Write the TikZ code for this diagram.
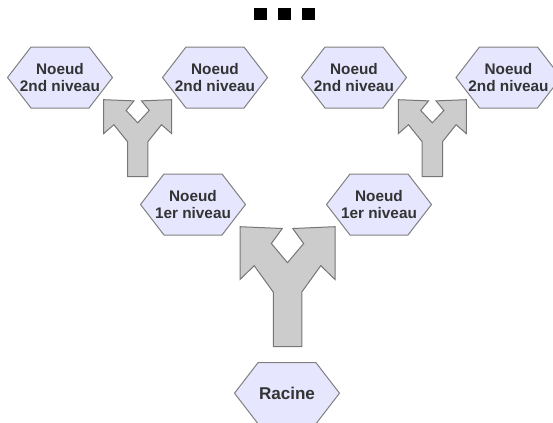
\documentclass[tikz,border=0pt]{standalone}
\usepackage{fontspec}
\setmainfont{Liberation Sans}
\usetikzlibrary{backgrounds}
\definecolor{hexfill}{RGB}{230,230,255}
\definecolor{hexline}{RGB}{128,128,128}
\definecolor{armfill}{RGB}{204,204,204}
\definecolor{armline}{RGB}{118,118,118}
\definecolor{txt}{RGB}{51,51,51}
\tikzset{
  hexa/.style={minimum width=78.75pt, minimum height=45.75pt, inner sep=0pt, align=center,
    text=txt, font=\fontsize{11.5}{12.5}\selectfont\bfseries},
  hexpath/.style={fill=hexfill, draw=hexline, line width=0.75pt},
  arm/.style={fill=armfill, draw=armline, line width=0.75pt},
  sq/.style={fill=black, inner sep=0pt, minimum size=9.5pt}
}

\begin{document}
\begin{tikzpicture}[x=0.75pt,y=-0.75pt]
  \useasboundingbox (0,0) rectangle (553,422);
  % levels
  \node[hexa] (a) at (60,77.5) {Noeud\\2nd niveau};
  \node[hexa] (b) at (215,77.5) {Noeud\\2nd niveau};
  \node[hexa] (c) at (354,77.5) {Noeud\\2nd niveau};
  \node[hexa] (d) at (508.5,77.5) {Noeud\\2nd niveau};
  \node[hexa] (e) at (193,204.5) {Noeud\\1er niveau};
  \node[hexa] (f) at (379,204.5) {Noeud\\1er niveau};
  \node[hexa, font=\fontsize{12.8}{14}\selectfont\bfseries] (r) at (287,393.2) {Racine};
  \begin{scope}[on background layer]
    \foreach \n in {a,b,c,d,e,f,r}
      \filldraw[hexpath, shift={(\n)}] (-52.5,0) -- (-29,-30.5) -- (29,-30.5) -- (52.5,0) -- (29,30.5) -- (-29,30.5) -- cycle;
  \end{scope}
  % split arrows
  \foreach \cx/\cy/\w/\h in {137.7/176.7/34/77, 432.3/176.7/34/77, 287.5/346.7/47.5/120}
    \filldraw[arm, shift={(\cx,\cy)}, xscale=\w, yscale=\h]
      (0.3,0) -- (0.3,-0.455) -- (0.7,-0.675) -- (1,-0.56) -- (1,-1) -- (0.11,-0.985) -- (0.34,-0.86)
      -- (0,-0.7) -- (-0.34,-0.86) -- (-0.11,-0.985) -- (-1,-1) -- (-1,-0.56) -- (-0.7,-0.675)
      -- (-0.3,-0.455) -- (-0.3,0) -- cycle;
  % dots
  \foreach \i in {1,2,3}
    \node[sq] (s\i) at (236.3+24*\i,14) {};
\end{tikzpicture}
\end{document}
